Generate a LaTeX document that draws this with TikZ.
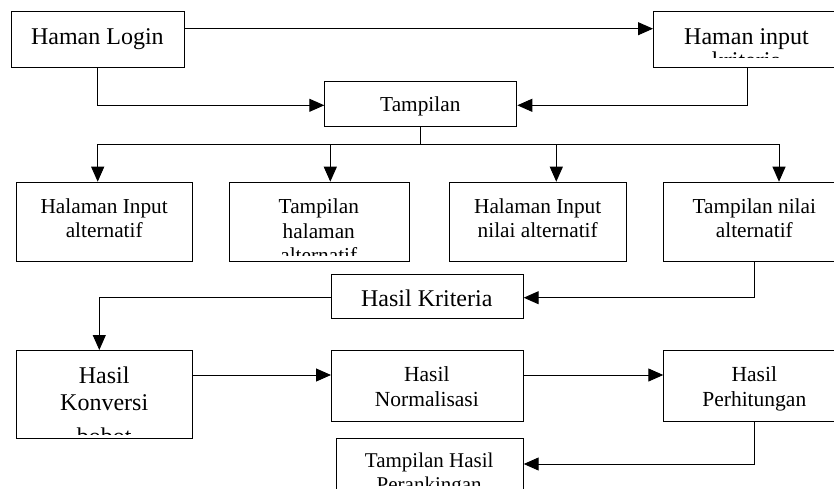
\documentclass[tikz,border=0pt]{standalone}
\usepackage{fontspec}
\setmainfont{Liberation Serif}
\usetikzlibrary{arrows.meta}
\begin{document}
\begin{tikzpicture}[x=1pt,y=-1pt,
  box/.style={draw, line width=1pt, inner sep=0pt, anchor=north west},
  txt/.style={anchor=base, inner sep=0pt, align=center},
  ln/.style={line width=1pt},
  arr/.style={line width=1pt, -{Triangle[length=15pt,width=13pt]}}]
\clip (0,0) rectangle (834,488);
\fill[white] (0,0) rectangle (834,488);
% boxes
\node[box, minimum width=173.3pt, minimum height=56pt] (login) at (10.7,11) {};
\node[box, minimum width=187pt, minimum height=56pt] (input) at (653,11) {};
\node[box, minimum width=192pt, minimum height=44.7pt] (tamp) at (324.3,81) {};
\node[box, minimum width=176.3pt, minimum height=79.3pt] (b1) at (16,181.7) {};
\node[box, minimum width=179.7pt, minimum height=79.3pt] (b2) at (229,181.7) {};
\node[box, minimum width=176.7pt, minimum height=79.3pt] (b3) at (449.3,181.7) {};
\node[box, minimum width=182pt, minimum height=79.3pt] (b4) at (663.3,181.7) {};
\node[box, minimum width=191.7pt, minimum height=44.6pt] (krit) at (331,273.7) {};
\node[box, minimum width=176.3pt, minimum height=87.7pt] (konv) at (16,350) {};
\node[box, minimum width=191.7pt, minimum height=71pt] (norm) at (331,350) {};
\node[box, minimum width=182pt, minimum height=71pt] (perh) at (663.3,350) {};
\node[box, minimum width=187pt, minimum height=60pt] (hasil) at (335.7,437.7) {};
% texts (anchor = baseline of the last line)
\node[txt, font=\fontsize{24}{24}\selectfont] (loginT) at (97.4,44.3) {Haman Login};
\begin{scope}
\clip (653,11) rectangle (840,57);
\node[txt, font=\fontsize{24}{24}\selectfont] (inputT) at (746.5,68.3) {Haman input\\kriteria};
\end{scope}
\node[txt, font=\fontsize{21.3}{24.5}\selectfont] (tampT) at (420.3,111.7) {Tampilan};
\node[txt, font=\fontsize{21.3}{24.5}\selectfont] (b1T) at (104.2,237.8) {Halaman Input\\alternatif};
\begin{scope}
\clip (229,181.7) rectangle (408.7,255);
\node[txt, font=\fontsize{21.3}{24.5}\selectfont] (b2T) at (318.8,262.5) {Tampilan\\halaman\\alternatif};
\end{scope}
\node[txt, font=\fontsize{21.3}{24.5}\selectfont] (b3T) at (537.7,237.8) {Halaman Input\\nilai alternatif};
\node[txt, font=\fontsize{21.3}{24.5}\selectfont] (b4T) at (754.3,237.8) {Tampilan nilai\\alternatif};
\node[txt, font=\fontsize{24}{26.7}\selectfont] (kritT) at (426.8,306.7) {Hasil Kriteria};
\begin{scope}
\clip (16,350) rectangle (192.3,434);
\node[txt, font=\fontsize{24}{26.7}\selectfont] (konvT) at (104.2,444) {Hasil\\Konversi\\[7.3pt]bobot};
\end{scope}
\node[txt, font=\fontsize{21.5}{25}\selectfont] (normT) at (426.8,406.7) {Hasil\\Normalisasi};
\node[txt, font=\fontsize{21.5}{25}\selectfont] (perhT) at (754.3,406.7) {Hasil\\Perhitungan};
\begin{scope}
\clip (335.7,437.7) rectangle (522.7,485);
\node[txt, font=\fontsize{21}{24}\selectfont] (hasilT) at (429.2,491.7) {Tampilan Hasil\\Perankingan};
\end{scope}
% helper coordinates
\coordinate (yLI) at (0,28.7);
\coordinate (yT) at (0,105.3);
\coordinate (bus1) at (97.7,144.3);
\coordinate (bus2) at (330.3,144.3);
\coordinate (bus3) at (556.3,144.3);
\coordinate (bus4) at (779,144.3);
\coordinate (yK) at (0,297.7);
\coordinate (kx) at (99.3,0);
\coordinate (yN) at (0,375);
\coordinate (yH) at (0,464);
% connectors
\draw[arr] (login.east |- yLI) -- (input.west |- yLI);
\draw[arr] (login.south) -- (login.south |- yT) -- (tamp.west |- yT);
\draw[arr] (input.south) -- (input.south |- yT) -- (tamp.east |- yT);
\draw[ln] (tamp.south) -- (tamp.south |- bus1);
\draw[ln] (bus1) -- (bus4);
\draw[arr] (bus1) -- (bus1 |- b1.north);
\draw[arr] (bus2) -- (bus2 |- b2.north);
\draw[arr] (bus3) -- (bus3 |- b3.north);
\draw[arr] (bus4) -- (bus4 |- b4.north);
\draw[arr] (b4.south) -- (b4.south |- yK) -- (krit.east |- yK);
\draw[arr] (krit.west |- yK) -- (kx |- yK) -- (kx |- konv.north);
\draw[arr] (konv.east |- yN) -- (norm.west |- yN);
\draw[arr] (norm.east |- yN) -- (perh.west |- yN);
\draw[arr] (perh.south) -- (perh.south |- yH) -- (hasil.east |- yH);
\end{tikzpicture}
\end{document}
